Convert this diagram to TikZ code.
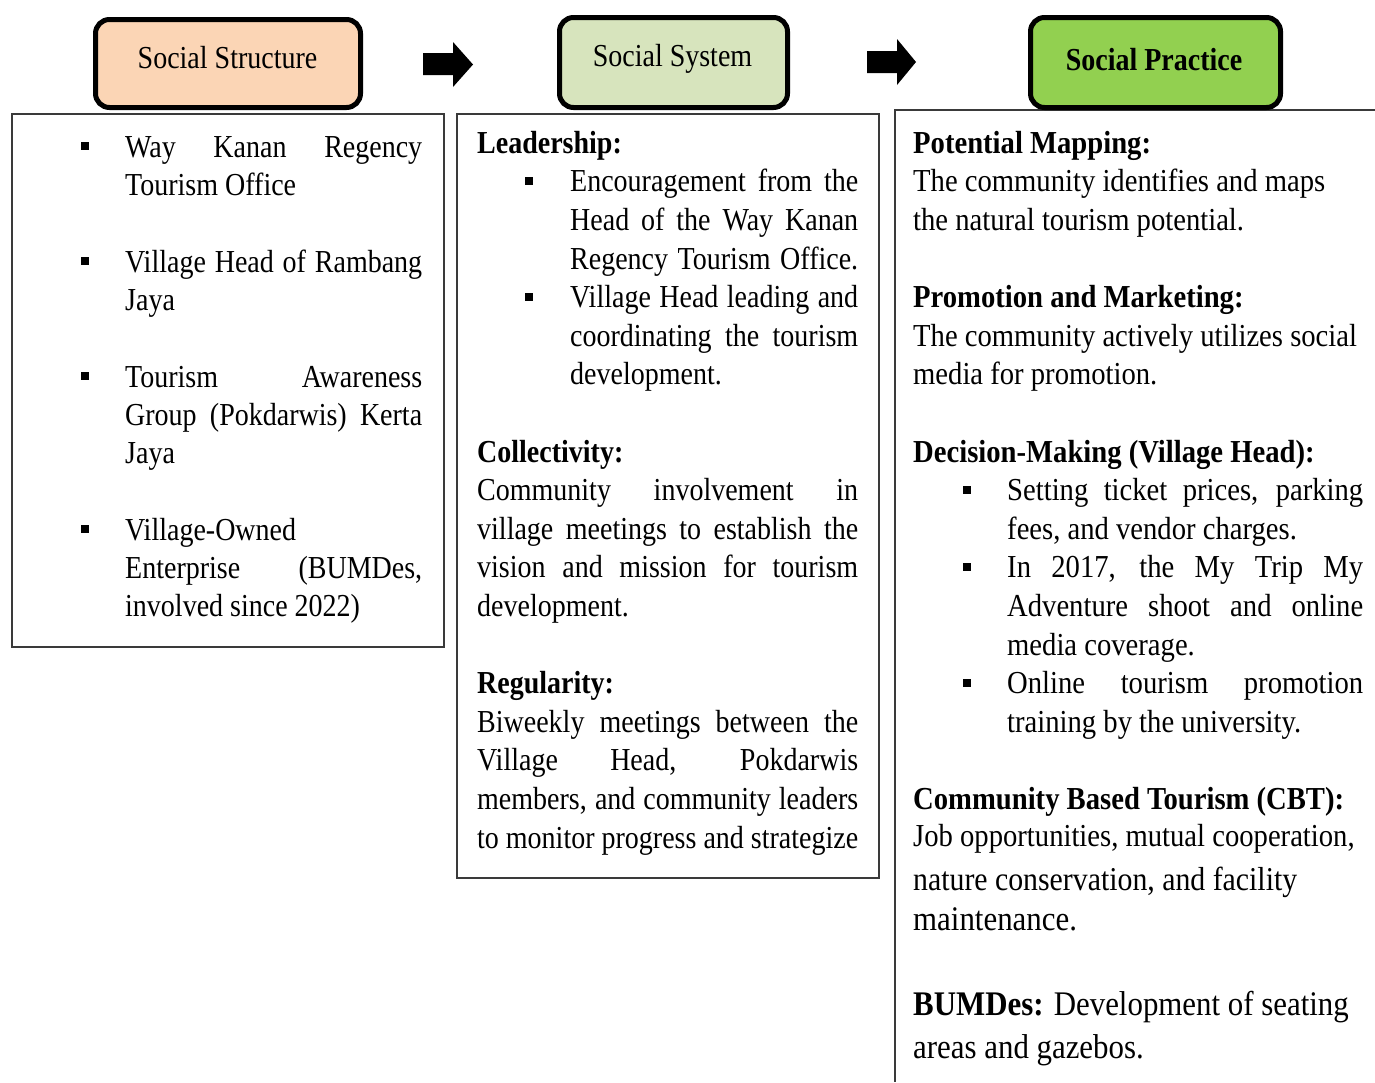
\documentclass[tikz,border=0pt]{standalone}
\usepackage{fontspec}
\setmainfont[FakeStretch=0.875]{Liberation Serif}
\newfontfamily\widefont[FakeStretch=0.895]{Liberation Serif}
\definecolor{peach}{HTML}{FBD5B5}
\definecolor{sage}{HTML}{D7E4BD}
\definecolor{lgreen}{HTML}{92D050}
\definecolor{framegray}{HTML}{3A3A3A}
\newcommand\bsq{\raisebox{7pt}{\rule{8pt}{8pt}}}
\newcommand\J[2]{\makebox[#1pt][s]{#2}}
\newcommand\bul[2]{\hspace*{#1pt}\makebox[#2pt][l]{\bsq}}
\begin{document}
\begin{tikzpicture}[x=1pt,y=-1pt,
  frame/.style={draw=framegray, line width=1.8pt, inner sep=0pt, outer sep=0pt, anchor=north west},
  hdr/.style={draw=black, line width=5pt, rounded corners=14pt, inner sep=0pt, outer sep=0pt},
  hdrtext/.style={anchor=base, inner sep=0pt, font=\fontsize{32}{38.6}\selectfont},
  txt/.style={anchor=north west, inner sep=0pt, align=left, font=\fontsize{32}{38.6}\selectfont},
  wtxt/.style={txt, font=\widefont\fontsize{32}{38.6}\selectfont},
  blockarrow/.style={fill=black}]
\useasboundingbox (0,0) rectangle (1375,1082);
\fill[white] (0,0) rectangle (1375,1082);

% content frames
\node[frame, minimum width=432, minimum height=533] (b1) at (12,114) {};
\node[frame, minimum width=422, minimum height=764] (b2) at (457,114) {};
\node[inner sep=0pt, outer sep=0pt, anchor=north west, minimum width=480, minimum height=972] (b3) at (895,110) {};
\draw[draw=framegray, line width=1.8pt] (b3.north east) -- (b3.north west) -- (b3.south west);

% headers
\node[hdr, fill=peach, minimum width=265, minimum height=88] (h1) at (228,63.5) {};
\node[hdr, fill=sage, minimum width=228, minimum height=90] (h2) at (673.5,62.5) {};
\node[hdr, fill=lgreen, minimum width=250, minimum height=90] (h3) at (1155.5,62.5) {};
\node[hdrtext] (h1t) at (227.5,68) {Social Structure};
\node[hdrtext] (h2t) at (672.5,66) {Social System};
\node[hdrtext, font=\bfseries\fontsize{32}{38.6}\selectfont] (h3t) at (1154,70) {Social Practice};

% block arrows between headers
\fill[blockarrow] (423,53) -- (453,53) -- (453,42) -- (473,64.5) -- (453,87) -- (453,75) -- (423,75) -- cycle;
\fill[blockarrow] (867,51) -- (897,51) -- (897,39) -- (916,62) -- (897,85) -- (897,73) -- (867,73) -- cycle;

% Social Structure text
\node[txt, font=\fontsize{32}{38.3}\selectfont] (t1) at (81,134) {%
\rule{0pt}{23pt}\makebox[44pt][l]{\bsq}\J{297}{Way Kanan Regency}\\
\hspace*{44pt}Tourism Office\\[38.3pt]
\makebox[44pt][l]{\bsq}\J{297}{Village Head of Rambang}\\
\hspace*{44pt}Jaya\\[38.3pt]
\makebox[44pt][l]{\bsq}\J{297}{Tourism Awareness}\\
\hspace*{44pt}\J{297}{Group (Pokdarwis) Kerta}\\
\hspace*{44pt}Jaya\\[38.3pt]
\makebox[44pt][l]{\bsq}Village-Owned\\
\hspace*{44pt}\J{297}{Enterprise (BUMDes,}\\
\hspace*{44pt}involved since 2022)};

% Social System text
\node[txt] (t2) at (477,130) {%
\rule{0pt}{23pt}\textbf{Leadership:}\\
\bul{48}{45}\J{288}{Encouragement from the}\\
\hspace*{93pt}\J{288}{Head of the Way Kanan}\\
\hspace*{93pt}\J{288}{Regency Tourism Office.}\\
\bul{48}{45}\J{288}{Village Head leading and}\\
\hspace*{93pt}\J{288}{coordinating the tourism}\\
\hspace*{93pt}development.\\[38.6pt]
\textbf{Collectivity:}\\
\J{381}{Community involvement in}\\
\J{381}{village meetings to establish the}\\
\J{381}{vision and mission for tourism}\\
development.\\[38.6pt]
\textbf{Regularity:}\\
\J{381}{Biweekly meetings between the}\\
\J{381}{Village Head, Pokdarwis}\\
\J{381}{members, and community leaders}\\
\J{381}{to monitor progress and strategize}};

% Social Practice text
\node[wtxt] (t3) at (913,130) {%
\rule{0pt}{23pt}\textbf{Potential Mapping:}\\
The community identifies and maps\\
the natural tourism potential.\\[38.6pt]
\textbf{Promotion and Marketing:}\\
The community actively utilizes social\\
media for promotion.\\[38.6pt]
\textbf{Decision-Making (Village Head):}\\
\bul{50}{44}\J{356}{Setting ticket prices, parking}\\
\hspace*{94pt}fees, and vendor charges.\\
\bul{50}{44}\J{356}{In 2017, the My Trip My}\\
\hspace*{94pt}\J{356}{Adventure shoot and online}\\
\hspace*{94pt}media coverage.\\
\bul{50}{44}\J{356}{Online tourism promotion}\\
\hspace*{94pt}training by the university.\\[38.6pt]
\textbf{Community Based Tourism (CBT):}\\[-1.8pt]
Job opportunities, mutual cooperation,\\[5.4pt]
{\fontsize{33.3}{38.6}\selectfont nature conservation, and facility}\\[1.4pt]
{\fontsize{34.5}{38.6}\selectfont maintenance.}\\[46.4pt]
{\fontsize{34.5}{38.6}\selectfont\textbf{BUMDes:} Development of seating}\\[4.4pt]
{\fontsize{34.5}{38.6}\selectfont areas and gazebos.}};
\end{tikzpicture}
\end{document}
